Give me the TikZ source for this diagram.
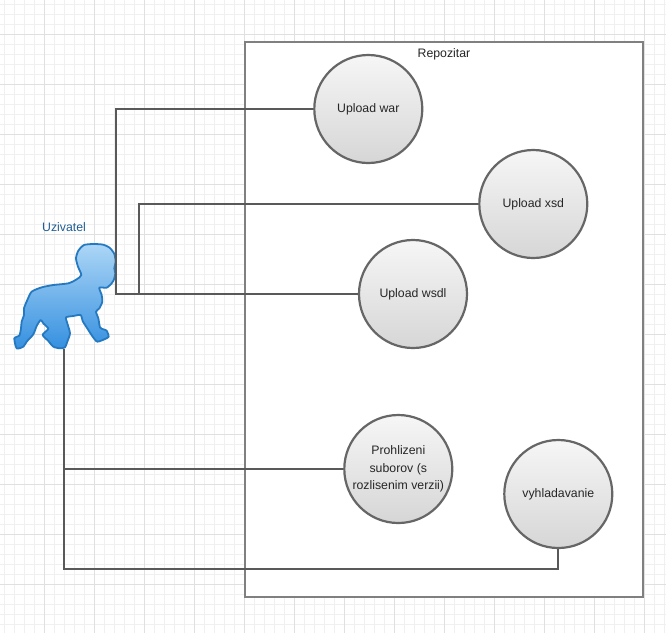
\documentclass[tikz,border=0pt]{standalone}
\usepackage{fontspec}
\setmainfont{Liberation Sans}
\tikzset{
  usecase/.style={circle,draw=circlegray,line width=2.2pt,minimum size=108pt,inner sep=0pt,
    top color=circletop,bottom color=circlebot,text=black!85,align=center,
    font=\fontsize{12.3}{17.3}\selectfont},
  conn/.style={draw=conngray,line width=2.2pt},
  gridminor/.style={draw=gridlo,line width=1pt},
  gridmajor/.style={draw=gridhi,line width=1pt},
  lab/.style={inner sep=0pt,font=\fontsize{12.3}{14}\selectfont}
}
\definecolor{circlegray}{HTML}{666666}
\definecolor{circletop}{HTML}{F6F6F6}
\definecolor{circlebot}{HTML}{D6D6D6}
\definecolor{conngray}{HTML}{595959}
\definecolor{framegray}{HTML}{808080}
\definecolor{gridlo}{HTML}{F0F0F0}
\definecolor{gridhi}{HTML}{E0E0E0}
\definecolor{babytop}{HTML}{ACD6F6}
\definecolor{babybot}{HTML}{3590E0}
\definecolor{babyline}{HTML}{2479C0}
\definecolor{userblue}{HTML}{1F5F94}
\begin{document}
\begin{tikzpicture}[x=1pt,y=-1pt]
\useasboundingbox (0,0) rectangle (666,633);
\fill[white] (0,0) rectangle (666,633);
% grid
\foreach \k in {0,...,66}{
  \draw[gridminor] ({4.5+10*\k},0) -- ({4.5+10*\k},633);
}
\foreach \k in {0,...,63}{
  \draw[gridminor] (0,{4.5+10*\k}) -- (666,{4.5+10*\k});
}
\foreach \k in {0,...,13}{
  \draw[gridmajor] ({44.5+50*\k},0) -- ({44.5+50*\k},633);
}
\foreach \k in {0,...,12}{
  \draw[gridmajor] (0,{34.5+50*\k}) -- (666,{34.5+50*\k});
}
% frame
\node[draw=framegray,fill=white,line width=2.2pt,minimum width=398pt,minimum height=555pt,inner sep=0pt] (repo) at (444,319.5) {};
\node[lab,text=black!85] (repolabel) at (444,54) {Repozitar};
% baby
\begin{scope}[shift={(10,240)},x=0.3333pt,y=-0.3333pt]
\draw[line width=1.8pt,draw=babyline,top color=babytop,bottom color=babybot,line join=round]
  plot[smooth cycle,tension=0.4] coordinates {
  (222,15)(250,12)(280,14)(300,24)(313,42)(317,65)(313,85)(316,100)(312,118)(305,130)(290,143)(268,143)
  (275,165)(277,185)(268,205)(258,215)(265,235)(270,262)(280,268)(290,272)(296,290)(285,297)
  (262,305)(248,290)(235,270)(218,243)(212,225)(190,228)(168,232)(172,250)(180,280)(172,305)
  (165,322)(150,325)(130,320)(115,303)(98,285)(110,272)(115,265)(100,250)(92,240)(80,258)
  (70,283)(50,305)(40,320)(20,325)(13,295)(28,287)(33,265)(35,245)(42,225)(42,205)(52,180)
  (65,155)(95,142)(130,135)(175,130)(200,118)(214,105)(204,80)(198,55)(205,32)};
\end{scope}
\node[inner sep=0pt,minimum width=102pt,minimum height=110pt] (user) at (64,294) {};
\node[lab,text=userblue] (userlabel) at (64,227) {Uzivatel};
% connectors
\coordinate (j1) at (116,294);
\coordinate (j2) at (139,294);
\coordinate (j3) at (64,469);
\coordinate (j4) at (64,569);
% use cases
\node[usecase] (war) at (368.3,109) {Upload war};
\node[usecase] (xsd) at (533.3,204) {Upload xsd};
\node[usecase] (wsdl) at (413,294) {Upload wsdl};
\node[usecase] (prohl) at (398.3,469) {Prohlizeni\\suborov (s\\rozlisenim verzii)};
\node[usecase] (vyhl) at (558.3,494) {vyhladavanie};
\draw[conn] (user.east) -- (wsdl.west);
\draw[conn] (j1) |- (war.west);
\draw[conn] (j2) |- (xsd.west);
\draw[conn] (user.south) -- (j4) -| (vyhl.south);
\draw[conn] (j3) -- (prohl.west);
\end{tikzpicture}
\end{document}
